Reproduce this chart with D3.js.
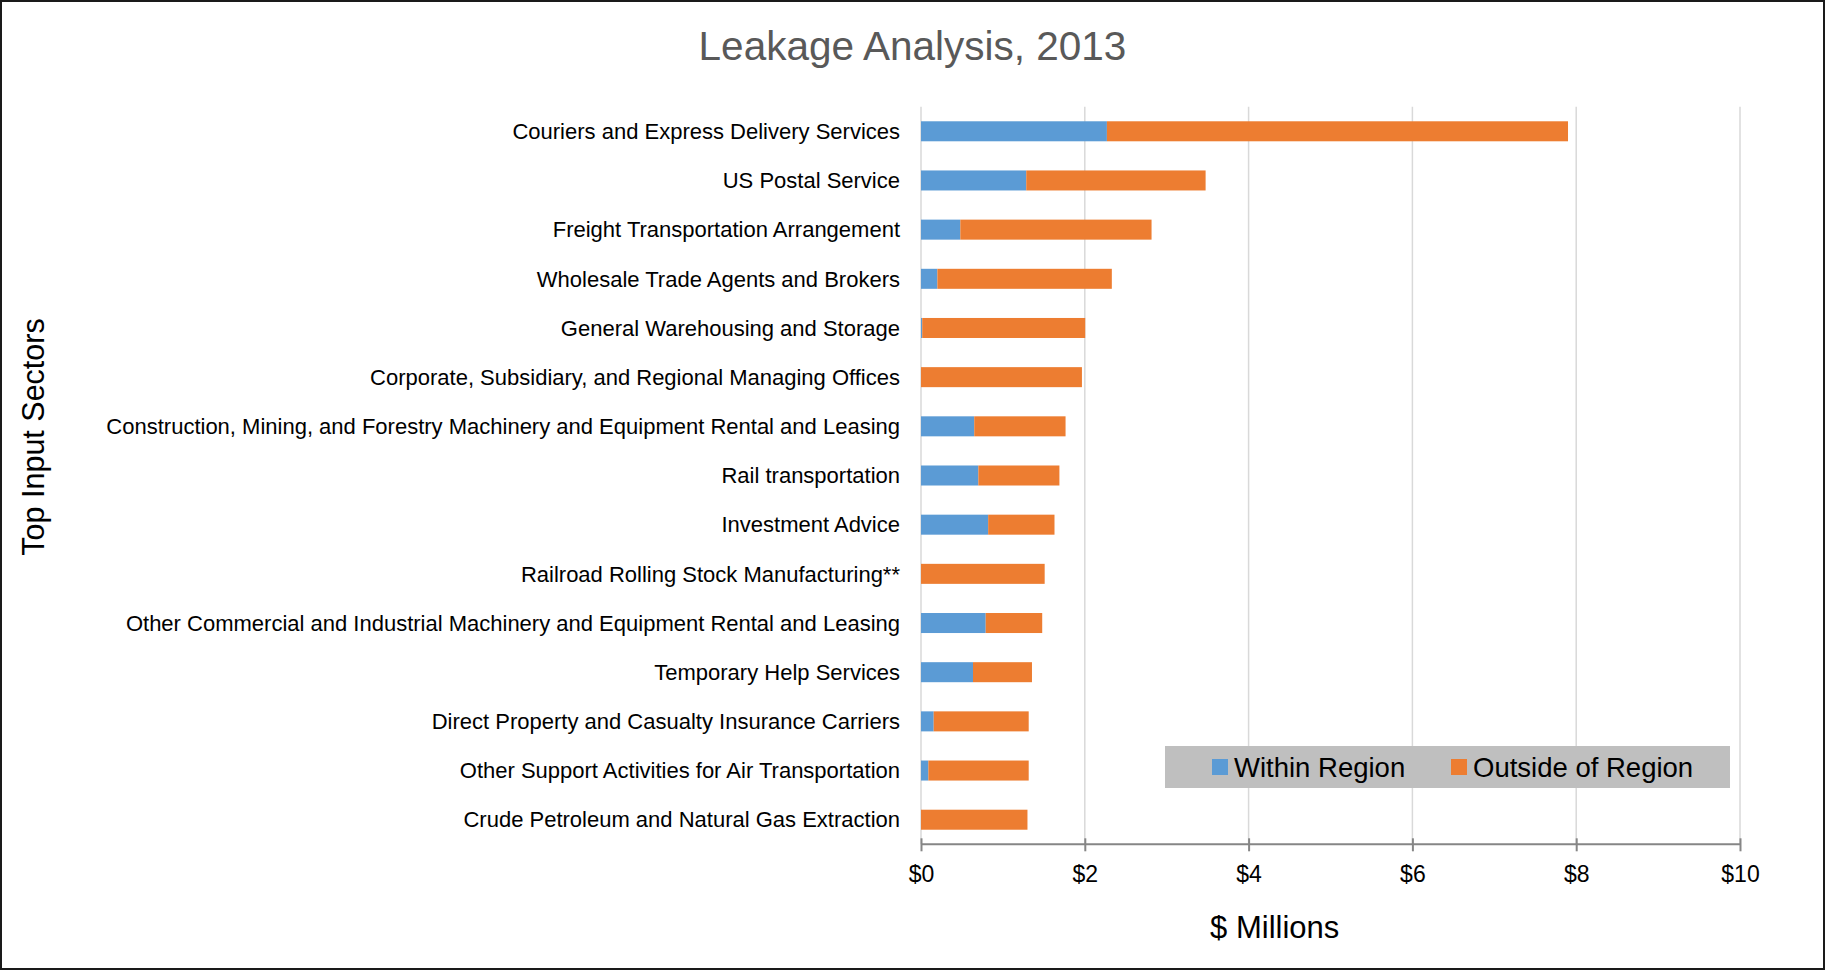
<!DOCTYPE html>
<html>
<head>
<meta charset="utf-8">
<script src="https://cdn.jsdelivr.net/npm/d3@7"></script>
<style>
    body { margin: 0; background: #fff; }
    svg text { font-family: "Liberation Sans", Arial, sans-serif; }
</style>
</head>
<body>
<div id="chart"></div>
<script>
// sectors, top to bottom
let sectors = [
    "Couriers and Express Delivery Services",
    "US Postal Service",
    "Freight Transportation Arrangement",
    "Wholesale Trade Agents and Brokers",
    "General Warehousing and Storage",
    "Corporate, Subsidiary, and Regional Managing Offices",
    "Construction, Mining, and Forestry Machinery and Equipment Rental and Leasing",
    "Rail transportation",
    "Investment Advice",
    "Railroad Rolling Stock Manufacturing**",
    "Other Commercial and Industrial Machinery and Equipment Rental and Leasing",
    "Temporary Help Services",
    "Direct Property and Casualty Insurance Carriers",
    "Other Support Activities for Air Transportation",
    "Crude Petroleum and Natural Gas Extraction"
];

// $ millions
let withinRegion = [2.27, 1.285, 0.48, 0.2, 0.015, 0, 0.65, 0.70, 0.82, 0, 0.79, 0.635, 0.155, 0.09, 0];
let outsideRegion = [5.63, 2.19, 2.335, 2.13, 1.99, 1.965, 1.115, 0.99, 0.81, 1.51, 0.69, 0.72, 1.16, 1.225, 1.30];

let seriesNames = ["Within Region", "Outside of Region"];
let seriesColors = ["#5b9bd5", "#ed7d31"];
let xTicks = [0, 2, 4, 6, 8, 10];

let width = 1825, height = 970;
let plot = {left: 921, right: 1740, top: 106.7, bottom: 844.3};

let svg = d3.select("#chart").append("svg")
    .attr("width", width)
    .attr("height", height);

svg.append("rect")
    .attr("x", 1).attr("y", 1)
    .attr("width", width - 2).attr("height", height - 2)
    .attr("fill", "#fff")
    .attr("stroke", "#1a1a1a")
    .attr("stroke-width", 2);

let rows = sectors.map((s, i) => ({sector: s, within: withinRegion[i], outside: outsideRegion[i]}));

let x = d3.scaleLinear()
    .domain([0, 10])
    .range([plot.left, plot.right]);

let y = d3.scaleBand()
    .domain(sectors)
    .range([plot.top, plot.bottom])
    .paddingInner(0.593)
    .paddingOuter(0.2965);

// gridlines
svg.append("g")
    .selectAll("line")
    .data(xTicks)
    .join("line")
    .attr("x1", d => x(d)).attr("x2", d => x(d))
    .attr("y1", plot.top).attr("y2", plot.bottom)
    .attr("stroke", "#d9d9d9")
    .attr("stroke-width", 1.5);

// stacked bars
let stack = d3.stack().keys(["within", "outside"]);
let layers = stack(rows);

svg.append("g")
    .selectAll("g")
    .data(layers)
    .join("g")
    .attr("fill", (d, i) => seriesColors[i])
    .selectAll("rect")
    .data(d => d)
    .join("rect")
    .attr("x", d => x(d[0]))
    .attr("y", d => y(d.data.sector))
    .attr("width", d => x(d[1]) - x(d[0]))
    .attr("height", y.bandwidth());

// x axis
let xAxis = svg.append("g")
    .attr("transform", "translate(0," + plot.bottom + ")")
    .call(d3.axisBottom(x)
        .tickValues(xTicks)
        .tickSize(7)
        .tickFormat(d => "$" + d));

xAxis.select(".domain")
    .attr("d", "M" + plot.left + ",0H" + plot.right)
    .attr("stroke", "#868686")
    .attr("stroke-width", 2);

xAxis.selectAll(".tick line")
    .attr("y1", -6)
    .attr("stroke", "#868686")
    .attr("stroke-width", 2);

xAxis.selectAll(".tick text")
    .attr("y", 38)
    .attr("dy", 0)
    .attr("fill", "#000")
    .style("font-size", "23px");

// y axis labels
let yAxis = svg.append("g")
    .attr("transform", "translate(" + plot.left + ",0)")
    .call(d3.axisLeft(y).tickSize(0).tickPadding(21));

yAxis.select(".domain").remove();
yAxis.selectAll(".tick text")
    .attr("fill", "#000")
    .attr("dy", "0.35em")
    .style("font-size", "22px");

// title
svg.append("text")
    .attr("x", 912.5)
    .attr("y", 60)
    .attr("text-anchor", "middle")
    .attr("fill", "#595959")
    .style("font-size", "40.5px")
    .text("Leakage Analysis, 2013");

// axis titles
svg.append("text")
    .attr("transform", "translate(44,437) rotate(-90)")
    .attr("text-anchor", "middle")
    .attr("fill", "#000")
    .style("font-size", "30.5px")
    .text("Top Input Sectors");

svg.append("text")
    .attr("x", 1274.7)
    .attr("y", 938)
    .attr("text-anchor", "middle")
    .attr("fill", "#000")
    .style("font-size", "31px")
    .text("$ Millions");

// legend
let legend = svg.append("g");

legend.append("rect")
    .attr("x", 1165).attr("y", 746)
    .attr("width", 565).attr("height", 42)
    .attr("fill", "#bfbfbf");

let legendX = [1212, 1451];

let items = legend.selectAll("g.item")
    .data(seriesNames)
    .join("g")
    .attr("class", "item")
    .attr("transform", (d, i) => "translate(" + legendX[i] + ",0)");

items.append("rect")
    .attr("x", 0).attr("y", 759)
    .attr("width", 16).attr("height", 16)
    .attr("fill", (d, i) => seriesColors[i]);

items.append("text")
    .attr("x", 22)
    .attr("y", 777)
    .attr("fill", "#000")
    .style("font-size", "27.5px")
    .text(d => d);
</script>
</body>
</html>
